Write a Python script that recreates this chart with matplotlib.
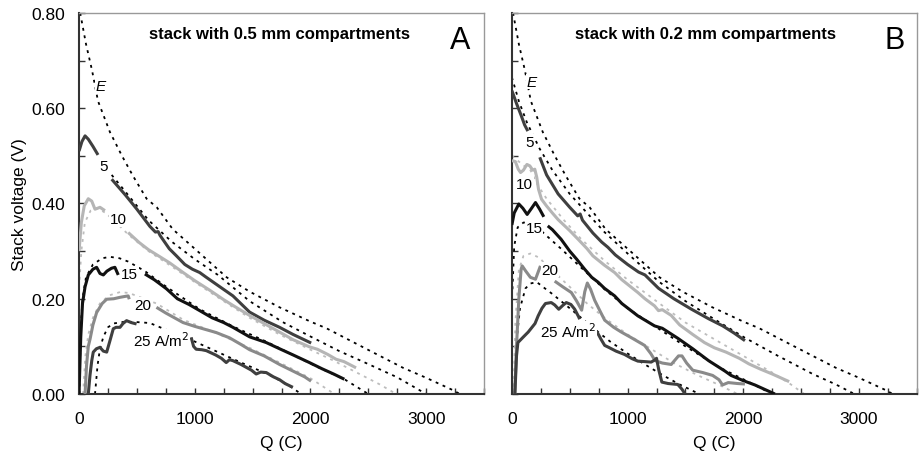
import numpy as np
import matplotlib
matplotlib.use("Agg")
import matplotlib.pyplot as plt
from matplotlib.ticker import MultipleLocator, FormatStrFormatter

plt.rcParams['font.family'] = ['Liberation Sans', 'DejaVu Sans']

GAP = (np.nan, np.nan)

# theoretical E (same for both stacks)
E_curve = [(10, 0.80), (60, 0.735), (112, 0.68), (164, 0.615), (267, 0.55), (371, 0.50),
           (466, 0.458), (584, 0.41), (672, 0.392), (810, 0.346), (1000, 0.305),
           (1276, 0.245), (1474, 0.215), (1733, 0.182), (2000, 0.152), (2138, 0.138),
           (2480, 0.095), (2800, 0.055), (3000, 0.034), (3241, 0.007), (3290, 0.0)]

# ---- stack A (0.5 mm), measured
a5 = [(0, 0.51), (25, 0.53), (52, 0.542), (80, 0.535), (120, 0.52), (164, 0.502), GAP,
      (282, 0.451), (400, 0.418), (500, 0.388), (612, 0.352), (660, 0.34), (684, 0.341),
      (700, 0.333), (780, 0.305), (842, 0.29), (914, 0.272), (980, 0.262), (1043, 0.255),
      (1100, 0.245), (1200, 0.228), (1330, 0.206), (1474, 0.172), (1600, 0.155),
      (1733, 0.14), (1850, 0.125), (2006, 0.107)]
a10 = [(0, 0.30), (20, 0.36), (45, 0.395), (80, 0.41), (110, 0.405), (138, 0.388),
       (160, 0.39), (181, 0.392), (224, 0.385), GAP,
       (425, 0.339), (520, 0.318), (600, 0.303), (700, 0.288), (785, 0.275), (900, 0.255),
       (1000, 0.238), (1129, 0.218), (1250, 0.198), (1350, 0.183), (1474, 0.165),
       (1600, 0.148), (1733, 0.13), (1850, 0.114), (1991, 0.099), (2060, 0.094),
       (2150, 0.083), (2221, 0.073), (2290, 0.068), (2394, 0.055)]
a15 = [(0, 0.0), (15, 0.12), (30, 0.19), (52, 0.225), (80, 0.25), (120, 0.262), (152, 0.266),
       (181, 0.253), (210, 0.25), (241, 0.258), (280, 0.264), (310, 0.266), (339, 0.25), GAP,
       (569, 0.252), (650, 0.24), (755, 0.221), (850, 0.2), (950, 0.188), (1043, 0.175),
       (1150, 0.16), (1250, 0.15), (1330, 0.14), (1474, 0.12), (1618, 0.108), (1733, 0.095),
       (1850, 0.082), (1991, 0.066), (2100, 0.053), (2200, 0.042), (2293, 0.031)]
a20 = [(52, 0.0), (65, 0.06), (80, 0.1), (95, 0.115), (120, 0.145), (152, 0.171), (200, 0.19),
       (239, 0.199), (300, 0.2), (354, 0.203), (400, 0.205), (425, 0.206), (434, 0.199), GAP,
       (669, 0.182), (750, 0.17), (899, 0.15), (1000, 0.142), (1100, 0.135), (1186, 0.129),
       (1300, 0.118), (1400, 0.104), (1474, 0.093), (1600, 0.08), (1733, 0.062),
       (1850, 0.048), (1950, 0.036), (2005, 0.027)]
a25 = [(80, 0.0), (95, 0.04), (110, 0.07), (123, 0.088), (150, 0.095), (181, 0.098),
       (210, 0.09), (239, 0.088), (265, 0.11), (296, 0.137), (320, 0.14), (354, 0.14),
       (380, 0.148), (411, 0.154), (450, 0.15), (497, 0.147), GAP,
       (969, 0.119), (990, 0.1), (1012, 0.094), (1060, 0.093), (1100, 0.091), (1180, 0.082),
       (1230, 0.075), (1272, 0.066), (1300, 0.072), (1330, 0.07), (1400, 0.062),
       (1445, 0.056), (1490, 0.05), (1531, 0.042), (1570, 0.046), (1618, 0.045),
       (1680, 0.036), (1733, 0.03), (1780, 0.022), (1848, 0.014)]

# ---- stack A model
a5_fit = [(282, 0.46), (400, 0.425), (500, 0.395), (600, 0.365), (800, 0.32), (1000, 0.283),
          (1200, 0.25), (1474, 0.195), (1760, 0.151), (2006, 0.12), (2250, 0.09),
          (2480, 0.065), (2750, 0.035), (3000, 0.0)]
a10_fit = [(5, 0.24), (20, 0.30), (50, 0.36), (100, 0.385), (160, 0.39), (230, 0.38),
           (300, 0.365), (425, 0.335), (600, 0.3), (800, 0.268), (1000, 0.235),
           (1250, 0.195), (1474, 0.16), (1733, 0.125), (2000, 0.093), (2200, 0.07),
           (2400, 0.045), (2600, 0.02), (2741, 0.0)]
a15_fit = [(3, 0.0), (15, 0.14), (30, 0.2), (60, 0.245), (120, 0.272), (200, 0.285),
           (267, 0.288), (350, 0.285), (425, 0.278), (569, 0.258), (755, 0.225),
           (1043, 0.178), (1330, 0.142), (1618, 0.11), (1850, 0.082), (2050, 0.058),
           (2300, 0.03), (2500, 0.0)]
a20_fit = [(35, 0.0), (55, 0.08), (80, 0.125), (120, 0.16), (180, 0.19), (260, 0.207),
           (354, 0.214), (434, 0.212), (560, 0.2), (670, 0.19), (900, 0.156), (1186, 0.128),
           (1474, 0.097), (1733, 0.066), (2000, 0.033), (2207, 0.0)]
a25_fit = [(138, 0.0), (160, 0.06), (181, 0.095), (210, 0.12), (250, 0.14), (296, 0.148),
           (400, 0.152), (500, 0.151), (612, 0.149), (800, 0.13), (983, 0.112),
           (1200, 0.088), (1400, 0.066), (1646, 0.04), (1800, 0.02), (1920, 0.0)]

# ---- stack B (0.2 mm), measured
b5 = [(0, 0.637), (40, 0.61), (80, 0.585), (110, 0.565), (138, 0.552), GAP,
      (241, 0.497), (300, 0.46), (400, 0.42), (500, 0.392), (569, 0.374), (590, 0.378),
      (610, 0.365), (700, 0.338), (776, 0.319), (830, 0.308), (894, 0.292), (1000, 0.272),
      (1095, 0.256), (1150, 0.25), (1267, 0.222), (1400, 0.2), (1552, 0.178),
      (1700, 0.158), (1822, 0.143), (1920, 0.128), (2014, 0.112)]
b10 = [(0, 0.49), (30, 0.488), (55, 0.472), (75, 0.465), (100, 0.47), (130, 0.482),
       (155, 0.479), (180, 0.47), (198, 0.472), (215, 0.455), (230, 0.43), (256, 0.409),
       (299, 0.395), (350, 0.38), (400, 0.366), (500, 0.343), (572, 0.325), (650, 0.305),
       (700, 0.29), (802, 0.27), (888, 0.255), (950, 0.24), (1089, 0.213), (1150, 0.2),
       (1233, 0.185), (1267, 0.175), (1300, 0.177), (1377, 0.165), (1450, 0.145),
       (1563, 0.125), (1664, 0.108), (1750, 0.097), (1850, 0.088), (1965, 0.075),
       (2050, 0.063), (2150, 0.052), (2250, 0.042), (2396, 0.026)]
b15 = [(0, 0.355), (20, 0.38), (60, 0.399), (95, 0.39), (132, 0.377), (170, 0.39),
       (204, 0.402), (240, 0.388), (276, 0.372), GAP,
       (310, 0.353), (350, 0.345), (425, 0.325), (500, 0.3), (560, 0.283), (629, 0.262),
       (690, 0.245), (744, 0.235), (800, 0.222), (888, 0.206), (950, 0.19), (1089, 0.164),
       (1233, 0.143), (1300, 0.138), (1434, 0.117), (1563, 0.095), (1700, 0.07),
       (1842, 0.048), (1894, 0.039), (2000, 0.028), (2100, 0.019), (2200, 0.008),
       (2273, 0.0)]
b20 = [(25, 0.0), (40, 0.1), (60, 0.2), (80, 0.262), (89, 0.269), (120, 0.258), (160, 0.245),
       (204, 0.241), (230, 0.258), (247, 0.269), GAP,
       (370, 0.237), (440, 0.225), (514, 0.213), (560, 0.195), (603, 0.176), (630, 0.215),
       (652, 0.233), (680, 0.22), (715, 0.197), (760, 0.175), (802, 0.155), (880, 0.14),
       (946, 0.13), (1034, 0.118), (1147, 0.102), (1200, 0.085), (1238, 0.07),
       (1300, 0.065), (1377, 0.062), (1440, 0.08), (1470, 0.08), (1510, 0.065),
       (1563, 0.05), (1650, 0.045), (1735, 0.039), (1790, 0.03), (1820, 0.019),
       (1870, 0.024), (1950, 0.022), (2014, 0.021)]
b25 = [(26, 0.0), (40, 0.08), (52, 0.108), (100, 0.12), (141, 0.13), (200, 0.148),
       (227, 0.164), (260, 0.18), (290, 0.19), (340, 0.192), (370, 0.187), (405, 0.178),
       (440, 0.186), (470, 0.192), (510, 0.188), (543, 0.178), (577, 0.162), (586, 0.157), GAP,
       (730, 0.133), (770, 0.115), (802, 0.102), (836, 0.098), (900, 0.09), (974, 0.083),
       (1040, 0.074), (1089, 0.069), (1150, 0.068), (1204, 0.067), (1238, 0.072),
       (1250, 0.075), (1270, 0.05), (1296, 0.025), (1350, 0.022), (1434, 0.02),
       (1470, 0.01), (1497, 0.0)]

# ---- stack B model
b5_fit = [(0, 0.665), (60, 0.615), (130, 0.57), (240, 0.515), (350, 0.47), (500, 0.42),
          (650, 0.38), (800, 0.34), (1000, 0.295), (1270, 0.236), (1500, 0.195),
          (1750, 0.157), (2014, 0.118), (2300, 0.08), (2600, 0.042), (2800, 0.02), (2960, 0.0)]
b10_fit = [(0, 0.50), (50, 0.49), (100, 0.48), (160, 0.47), (220, 0.44), (300, 0.41),
           (450, 0.365), (600, 0.325), (800, 0.28), (1000, 0.24), (1276, 0.19), (1500, 0.15),
           (1750, 0.115), (2000, 0.08), (2250, 0.045), (2400, 0.022), (2526, 0.0)]
b15_fit = [(5, 0.22), (20, 0.31), (50, 0.35), (100, 0.36), (150, 0.36), (220, 0.35),
           (310, 0.33), (425, 0.305), (600, 0.265), (800, 0.22), (1000, 0.18), (1250, 0.14),
           (1500, 0.1), (1800, 0.055), (2050, 0.025), (2250, 0.0)]
b20_fit = [(15, 0.0), (30, 0.15), (60, 0.26), (100, 0.29), (160, 0.295), (238, 0.286),
           (300, 0.27), (370, 0.255), (500, 0.225), (650, 0.19), (800, 0.16), (1000, 0.125),
           (1200, 0.095), (1400, 0.065), (1600, 0.04), (1800, 0.018), (1950, 0.0)]
b25_fit = [(20, 0.0), (40, 0.11), (70, 0.18), (118, 0.222), (160, 0.232), (215, 0.235),
           (284, 0.222), (350, 0.21), (425, 0.195), (550, 0.17), (715, 0.136), (850, 0.11),
           (1000, 0.085), (1150, 0.062), (1300, 0.04), (1450, 0.02), (1620, 0.0)]

c_dark = '#3f3f3f'
c_light = '#b5b5b5'
c_black = '#111111'
c_mid = '#8a8a8a'
c_fitlight = '#bdbdbd'


def xy(pts):
    a = np.array(pts, dtype=float)
    return a[:, 0], a[:, 1]


def dotted(ax, pts, color='black'):
    x, y = xy(pts)
    ax.plot(x, y, color=color, lw=1.3, linestyle=(0, (1.6, 2.6)), zorder=2)


def solid(ax, pts, color):
    x, y = xy(pts)
    ax.plot(x, y, color=color, lw=2.2, solid_capstyle='butt', zorder=3)


def label(ax, x, y, s, ha='center', **kw):
    ax.text(x, y, s, fontsize=11, zorder=5, va='center', ha=ha,
            bbox=dict(facecolor='white', edgecolor='none', pad=0.6), **kw)


fig = plt.figure(figsize=(9.19, 4.6), dpi=100)
axA = fig.add_axes([0.086, 0.1413, 0.4407, 0.8283])
axB = fig.add_axes([0.557, 0.1413, 0.4407, 0.8283])

panels = [
    (axA, [a5_fit, a15_fit, a25_fit], [a10_fit, a20_fit], [a5, a10, a15, a20, a25]),
    (axB, [b5_fit, b15_fit, b25_fit], [b10_fit, b20_fit], [b5, b10, b15, b20, b25]),
]
colors = [c_dark, c_light, c_black, c_mid, c_dark]

for ax, blackfits, lightfits, meas in panels:
    dotted(ax, E_curve)
    for f in blackfits:
        dotted(ax, f)
    for f in lightfits:
        dotted(ax, f, c_fitlight)
    for m, c in zip(meas, colors):
        solid(ax, m, c)

    ax.set_xlim(0, 3500)
    ax.set_ylim(0, 0.8)
    ax.xaxis.set_major_locator(MultipleLocator(1000))
    ax.xaxis.set_minor_locator(MultipleLocator(250))
    ax.yaxis.set_major_locator(MultipleLocator(0.2))
    ax.yaxis.set_minor_locator(MultipleLocator(0.1))
    ax.yaxis.set_major_formatter(FormatStrFormatter('%.2f'))
    ax.tick_params(which='both', direction='in', length=4, width=1, colors='#333333',
                   labelcolor='black', labelsize=12.5, top=False, right=False)
    ax.tick_params(axis='x', which='major', pad=12)
    ax.tick_params(axis='y', which='major', pad=10)
    for side in ['left', 'bottom']:
        ax.spines[side].set_color('#333333')
        ax.spines[side].set_linewidth(1.5)
    for side in ['top', 'right']:
        ax.spines[side].set_color('#999999')
        ax.spines[side].set_linewidth(1.0)
    ax.set_xlabel('Q (C)', fontsize=12.5, labelpad=7)

axA.set_ylabel('Stack voltage (V)', fontsize=12.5, labelpad=3)
axB.tick_params(axis='y', labelleft=False)

axA.text(0.494, 0.945, 'stack with 0.5 mm compartments', transform=axA.transAxes,
         ha='center', va='center', fontsize=12, fontweight='bold')
axB.text(0.477, 0.945, 'stack with 0.2 mm compartments', transform=axB.transAxes,
         ha='center', va='center', fontsize=12, fontweight='bold')
axA.text(0.94, 0.93, 'A', transform=axA.transAxes, ha='center', va='center', fontsize=22)
axB.text(0.946, 0.93, 'B', transform=axB.transAxes, ha='center', va='center', fontsize=22)

# curve labels, panel A
label(axA, 190, 0.647, 'E', style='italic')
label(axA, 216, 0.479, '5')
label(axA, 339, 0.367, '10')
label(axA, 434, 0.252, '15')
label(axA, 550, 0.187, '20')
label(axA, 466, 0.115, '25 A/m$^2$', ha='left')

# curve labels, panel B
label(axB, 170, 0.656, 'E', style='italic')
label(axB, 155, 0.529, '5')
label(axB, 112, 0.441, '10')
label(axB, 192, 0.348, '15')
label(axB, 328, 0.261, '20')
label(axB, 241, 0.133, '25 A/m$^2$', ha='left')

fig.savefig('out.png', dpi=100)
